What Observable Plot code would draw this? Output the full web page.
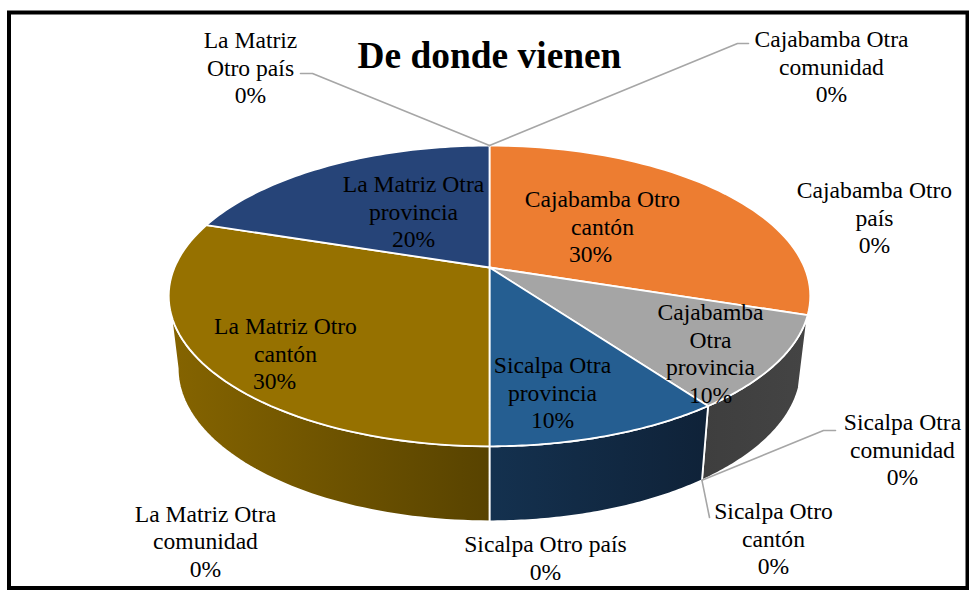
<!DOCTYPE html>
<html>
<head>
<meta charset="utf-8">
<style>
html,body{margin:0;padding:0;background:#fff}
svg{display:block}
</style>
<script src="https://cdn.jsdelivr.net/npm/d3@7"></script>
<script src="https://cdn.jsdelivr.net/npm/@observablehq/plot@0.6"></script>
</head>
<body>
<div id="chart"></div>
<script>
const title = "De donde vienen";
const categories = [
  "Cajabamba Otra comunidad","Cajabamba Otro cantón","Cajabamba Otro país","Cajabamba Otra provincia",
  "Sicalpa Otra comunidad","Sicalpa Otro cantón","Sicalpa Otra provincia","Sicalpa Otro país",
  "La Matriz Otra comunidad","La Matriz Otro cantón","La Matriz Otra provincia","La Matriz Otro país"
];
const values = [0,30,0,10,0,0,10,0,0,30,20,0];
const topColors  = ["#ED7D31","#ED7D31","#A5A5A5","#A5A5A5","#255E91","#255E91","#255E91","#967100","#967100","#967100","#264478","#264478"];
const sideColors = [null,null,null,"url(#gGrey)",null,null,"url(#gBlue)",null,null,"url(#gTan)",null,null];
const labelLines = [
  ["Cajabamba Otra","comunidad"],["Cajabamba Otro","cantón"],["Cajabamba Otro","país"],["Cajabamba","Otra","provincia"],
  ["Sicalpa Otra","comunidad"],["Sicalpa Otro","cantón"],["Sicalpa Otra","provincia"],["Sicalpa Otro país"],
  ["La Matriz Otra","comunidad"],["La Matriz Otro","cantón"],["La Matriz Otra","provincia"],["La Matriz","Otro país"]
];
// label placement (layout only): centre x, first-line y, x of the percent line
const labelX    = [831,602,874,710,902,773,552,545,205,285,413,250];
const labelY    = [39.3,199.3,190.3,312.3,422.3,511.3,365.3,544.3,514,326.3,184.3,40.3];
const percentX  = [831,590,874,710,902,773,552,545,205,274,413,250];
// leader elbows (layout only): [elbow, end], rim used for the origin
const leaders = [
  {i:0,rim:"top",pts:[[737,43],[748,43]]},
  {i:4,rim:"bottom",pts:[[823,430],[835,430]]},
  {i:5,rim:"bottom",pts:[[709,517]]},
  {i:11,rim:"top",pts:[[312,73],[300,73]]}
];

// pie geometry: perspective view of a disc
const cx = 489, cy = 267, R = 315, S = 145, k = 0.189;
const topEllipseY = 295.5, topEllipseRy = 150.5;
const sx = 0.972, botY = 368, botRy = 153;
const T = a => {
  const u = Math.sin(a), v = Math.cos(a), w = 1 + k*v;
  return [cx + R*u/w, cy - S*v/w];
};
const B = a => {
  const [x,y] = T(a);
  return [cx + (x-cx)*sx, botY + (y-topEllipseY)*botRy/topEllipseRy];
};
const arcs = d3.pie().sort(null).startAngle(0).endAngle(2*Math.PI)(values);
const sample = (a0,a1) => d3.range(61).map(j => a0 + (a1-a0)*j/60);

const topPts = [], sidePts = [];
const visLo = Math.acos(-k), visHi = 2*Math.PI - visLo;
arcs.forEach((d,i) => {
  if (d.value === 0) return;
  const ring = [[cx,cy], ...sample(d.startAngle,d.endAngle).map(T), [cx,cy]];
  ring.forEach(p => topPts.push({id:i,x:p[0],y:p[1],fill:topColors[i]}));
  if (sideColors[i]) {
    const a0 = Math.max(d.startAngle,visLo), a1 = Math.min(d.endAngle,visHi);
    const as = sample(a0,a1);
    const side = [...as.map(T), ...as.slice().reverse().map(B), T(a0)];
    side.forEach(p => sidePts.push({id:i,x:p[0],y:p[1],fill:sideColors[i]}));
  }
});

const leaderPts = leaders.flatMap(l => {
  const a = arcs[l.i].startAngle;
  const o = l.rim === "top" ? T(a) : B(a);
  return [o, ...l.pts].map(p => ({id:l.i,x:p[0],y:p[1]}));
});

const lineH = 27.4;
const rows = categories.flatMap((c,i) => {
  const ls = labelLines[i];
  return [
    ...ls.map((t,j) => ({t, x:labelX[i], y:labelY[i]+j*lineH})),
    {t:values[i]+"%", x:percentX[i], y:labelY[i]+ls.length*lineH}
  ];
});

const defs = () => {
  const ns = "http://www.w3.org/2000/svg";
  const el = document.createElementNS(ns,"defs");
  el.innerHTML = `
   <linearGradient id="gTan" x1="0" x2="1" y1="0" y2="0"><stop offset="0" stop-color="#856400"/><stop offset="1" stop-color="#584300"/></linearGradient>
   <linearGradient id="gBlue" x1="0" x2="1" y1="0" y2="0"><stop offset="0" stop-color="#14314F"/><stop offset="1" stop-color="#0F2238"/></linearGradient>
   <linearGradient id="gGrey" x1="0" x2="1" y1="0" y2="0"><stop offset="0" stop-color="#3E3E3E"/><stop offset="1" stop-color="#444444"/></linearGradient>`;
  return el;
};

const font = "'Liberation Serif','Times New Roman',serif";
const chart = Plot.plot({
  width: 969, height: 590, margin: 0,
  style: {background:"#fff", fontFamily: font},
  x: {domain:[0,969], range:[0,969], axis:null},
  y: {domain:[0,590], range:[0,590], axis:null},
  color: {type:"identity"},
  marks: [
    defs,
    Plot.rect([{x1:9,x2:967.5,y1:12.5,y2:588}], {x1:"x1",x2:"x2",y1:"y1",y2:"y2",fill:"none",stroke:"#000",strokeWidth:4}),
    Plot.line(sidePts, {x:"x",y:"y",z:"id",fill:"fill",stroke:"#fff",strokeWidth:1.8}),
    Plot.line(topPts, {x:"x",y:"y",z:"id",fill:"fill",stroke:"#fff",strokeWidth:1.8}),
    Plot.line(leaderPts, {x:"x",y:"y",z:"id",stroke:"#A6A6A6",strokeWidth:1.6}),
    Plot.text([title], {x:()=>489,y:()=>56,text:d=>d,fontSize:37.4,fontWeight:"bold",fill:"#000",lineAnchor:"middle"}),
    Plot.text(rows, {x:"x",y:"y",text:"t",fontSize:23.6,fill:"#000",lineAnchor:"middle"})
  ]
});
document.getElementById("chart").append(chart);
</script>
</body>
</html>
